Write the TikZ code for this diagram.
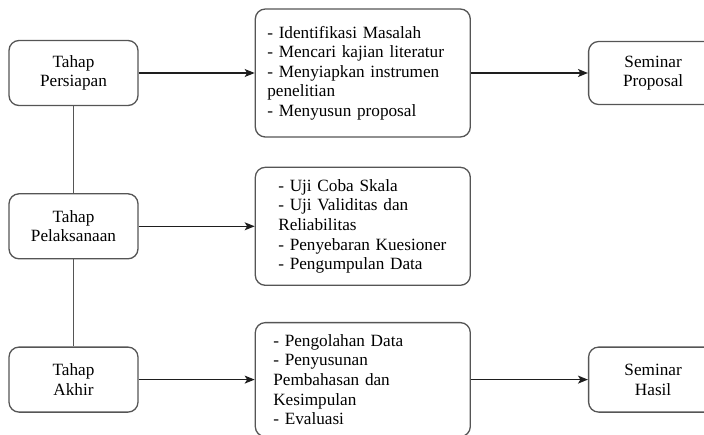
\documentclass[tikz,border=0pt]{standalone}
\usepackage{fontspec}
\setmainfont{Liberation Serif}
\usepackage{tikz}
\usetikzlibrary{arrows.meta, positioning}
\definecolor{linegray}{RGB}{85, 85, 85}
\definecolor{arrowblack}{RGB}{30, 30, 30}
\newcommand{\diagfont}{\fontsize{17.2}{19.6}\selectfont}
\tikzset{
    stagebox/.style={draw=linegray, rectangle, rounded corners=10pt, minimum width=129pt, minimum height=65pt, font=\diagfont, align=center, line width=1.3pt},
    taskbox/.style={stagebox, minimum width=215pt, align=left},
    flowarrow/.style={-{Stealth[length=10pt, width=8pt, inset=2.5pt]}, line width=1.3pt, draw=arrowblack},
    linkline/.style={line width=1.3pt, draw=linegray},
}
\begin{document}
\begin{tikzpicture}[x=1pt, y=1pt, node distance=87pt]
                \useasboundingbox (0,0) rectangle (704,-434);
                % Tahap
                \node[stagebox] (persiapan) at (73.5,-73) {Tahap\\Persiapan};
                \node[stagebox, below=of persiapan] (pelaksanaan) {Tahap\\Pelaksanaan};
                \node[stagebox, below=of pelaksanaan] (akhir) {Tahap\\Akhir};

                % Kegiatan tiap tahap
                \node[taskbox, minimum height=128pt, text width=191pt, right=116pt of persiapan] (kegiatanA)
                      {- Identifikasi Masalah\\- Mencari kajian literatur\\- Menyiapkan instrumen\\penelitian\\- Menyusun proposal};
                \node[taskbox, minimum height=118pt, text width=169pt, right=116pt of pelaksanaan] (kegiatanB)
                      {- Uji Coba Skala\\- Uji Validitas dan\\Reliabilitas\\- Penyebaran Kuesioner\\- Pengumpulan Data};
                \node[taskbox, minimum height=114pt, text width=179pt, right=116pt of akhir] (kegiatanC)
                      {- Pengolahan Data\\- Penyusunan\\Pembahasan dan\\Kesimpulan\\- Evaluasi};

                % Seminar
                \node[stagebox, minimum height=63pt, right=117pt of kegiatanA] (proposal) {Seminar\\Proposal};
                \node[stagebox, right=117pt of kegiatanC] (hasil) {Seminar\\Hasil};

                \draw[linkline] (persiapan) -- (pelaksanaan);
                \draw[linkline] (pelaksanaan) -- (akhir);
                \draw[flowarrow] (persiapan) -- (kegiatanA);
                \draw[flowarrow] (pelaksanaan) -- (kegiatanB);
                \draw[flowarrow] (akhir) -- (kegiatanC);
                \draw[flowarrow] (kegiatanA) -- (proposal);
                \draw[flowarrow] (kegiatanC) -- (hasil);
            \end{tikzpicture}
\end{document}
